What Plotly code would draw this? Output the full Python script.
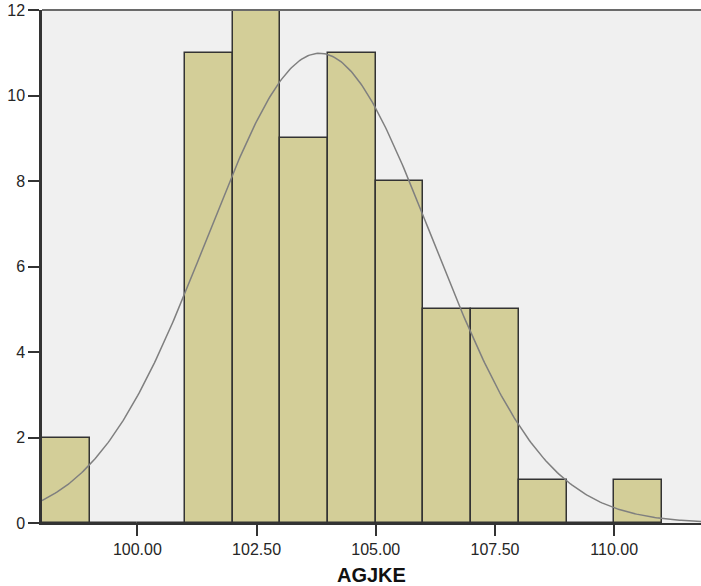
import numpy as np
import plotly.graph_objects as go

# Histogram data (bin lower edges, width 1) and counts
bin_left = [98, 99, 100, 101, 102, 103, 104, 105, 106, 107, 108, 109, 110]
counts   = [2, 0, 0, 11, 12, 9, 11, 8, 5, 5, 1, 0, 1]
bin_width = 1.0

# Normal curve parameters (fitted)
curve_mean = 103.82
curve_sd = 2.36
n_total = sum(counts)

x_tickvals = [100, 102.5, 105, 107.5, 110]
x_ticktext = ["100.00", "102.50", "105.00", "107.50", "110.00"]
y_tickvals = [0, 2, 4, 6, 8, 10, 12]

x_range = [98, 111.82]

centers = [b + bin_width / 2 for b in bin_left]

xs = np.linspace(x_range[0], x_range[1], 400)
ys = n_total * bin_width / (curve_sd * np.sqrt(2 * np.pi)) * np.exp(-((xs - curve_mean) ** 2) / (2 * curve_sd ** 2))

fig = go.Figure()
fig.add_trace(go.Bar(
    x=centers, y=counts, width=bin_width,
    marker=dict(color="#D3CE98", line=dict(color="#333333", width=1.5)),
    hoverinfo="x+y",
))
fig.add_trace(go.Scatter(
    x=xs, y=ys, mode="lines",
    line=dict(color="#7f7f7f", width=1.5),
    hoverinfo="skip",
))

font_family = "Liberation Sans, Arial, sans-serif"

fig.update_layout(
    width=701, height=586,
    margin=dict(l=42, r=0, t=10, b=63),
    paper_bgcolor="white",
    plot_bgcolor="#F0F0F0",
    showlegend=False,
    bargap=0,
    font=dict(family=font_family, size=16, color="#262626"),
    xaxis=dict(
        range=x_range,
        tickvals=x_tickvals, ticktext=x_ticktext,
        ticks="outside", ticklen=11, tickwidth=1.5, tickcolor="#333333",
        showgrid=False, zeroline=False,
        showline=True, linecolor="#333333", linewidth=2,
        tickfont=dict(size=16, color="#262626"),
    ),
    yaxis=dict(
        range=[0, 12],
        tickvals=y_tickvals,
        ticks="outside", ticklen=11, tickwidth=1.5, tickcolor="#333333",
        showgrid=False, zeroline=False,
        showline=True, linecolor="#333333", linewidth=2.5,
        tickfont=dict(size=16, color="#262626"),
        ticklabelstandoff=0,
    ),
    shapes=[dict(type="line", xref="paper", yref="paper", x0=0, x1=1, y0=1, y1=1,
                 line=dict(color="#6a6a6a", width=2), layer="above")],
    annotations=[dict(text="<b>AGJKE</b>", xref="paper", yref="paper", x=0.5, y=0,
                      yanchor="middle", xanchor="center", yshift=-52, showarrow=False,
                      font=dict(size=20, color="#111111", family=font_family))],
)

fig.write_html("out.html")
